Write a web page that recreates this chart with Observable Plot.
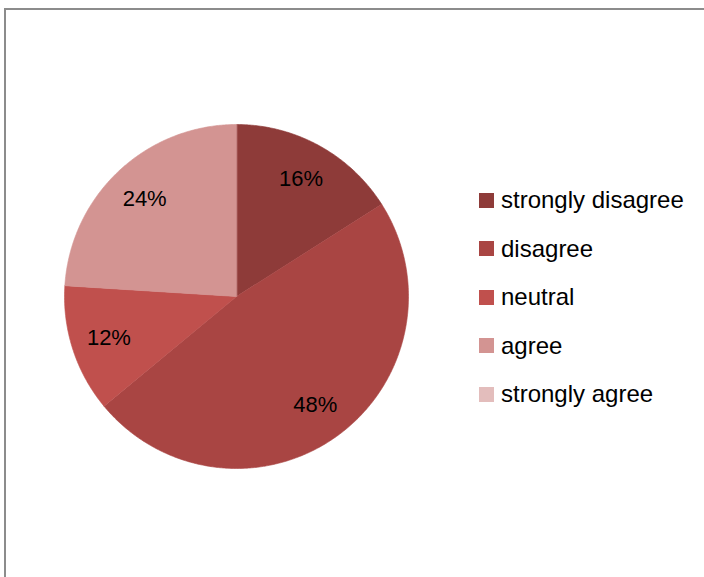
<!DOCTYPE html>
<html>
<head>
<meta charset="utf-8">
<script src="https://cdn.jsdelivr.net/npm/d3@7"></script>
<script src="https://cdn.jsdelivr.net/npm/@observablehq/plot@0.6"></script>
<style>
  html, body { margin: 0; padding: 0; background: #fff; }
  #wrap { position: relative; width: 704px; height: 577px; overflow: hidden; font-family: "Liberation Sans", Arial, sans-serif; }
  #frame { position: absolute; left: 4px; top: 8px; width: 760px; height: 640px; border: 2px solid #8c8c8c; box-sizing: border-box; }
  #chart { position: absolute; left: 0; top: 0; }
  #legend { position: absolute; left: 479px; top: 176px; }
  .item { display: flex; align-items: center; height: 48.5px; font-size: 24px; color: #000; }
  .sw { width: 15px; height: 15px; margin-right: 7px; flex: none; }
</style>
</head>
<body>
<div id="wrap">
  <div id="frame"></div>
  <div id="chart"></div>
  <div id="legend"></div>
</div>
<script>
const categories = ["strongly disagree", "disagree", "neutral", "agree", "strongly agree"];
const values = [16, 48, 12, 24, 0];
const colors = ["#8E3B39", "#A94543", "#C0504D", "#D39492", "#E3BDBC"];
const labels = ["16%", "48%", "12%", "24%", ""];

const slices = d3.pie().sort(null).value(d => d.value)(
  categories.map((c, i) => ({category: c, value: values[i], label: labels[i]}))
);

// polygon outline for each slice (center + sampled arc), unit radius, clockwise from top
const pts = [];
for (const s of slices) {
  if (s.endAngle - s.startAngle <= 0) continue;
  const c = s.data.category;
  pts.push({category: c, x: 0, y: 0});
  const n = Math.max(2, Math.ceil((s.endAngle - s.startAngle) / (Math.PI / 360)));
  for (let k = 0; k <= n; k++) {
    const a = s.startAngle + (s.endAngle - s.startAngle) * k / n;
    pts.push({category: c, x: Math.sin(a), y: Math.cos(a)});
  }
}
const labelPts = slices.filter(s => s.data.value > 0).map(s => {
  const a = (s.startAngle + s.endAngle) / 2;
  return {label: s.data.label, x: 0.78 * Math.sin(a), y: 0.78 * Math.cos(a)};
});

const chart = Plot.plot({
  width: 704,
  height: 577,
  margin: 0,
  style: {background: "transparent", overflow: "visible"},
  x: {domain: [-1, 1], range: [64, 408], axis: null},
  y: {domain: [-1, 1], range: [468, 124], axis: null},
  color: {type: "ordinal", domain: categories, range: colors},
  marks: [
    Plot.line(pts, {x: "x", y: "y", z: "category", fill: "category", stroke: "category", strokeWidth: 0.6, curve: "linear-closed"}),
    Plot.text(labelPts, {x: "x", y: "y", text: "label", fontSize: 22, fill: "#000", fontFamily: "Liberation Sans, Arial, sans-serif"})
  ]
});
document.getElementById("chart").appendChild(chart);

const legend = document.getElementById("legend");
categories.forEach((c, i) => {
  const it = document.createElement("div");
  it.className = "item";
  const sw = document.createElement("div");
  sw.className = "sw";
  sw.style.background = colors[i];
  const t = document.createElement("span");
  t.textContent = c;
  it.appendChild(sw); it.appendChild(t);
  legend.appendChild(it);
});
</script>
</body>
</html>
